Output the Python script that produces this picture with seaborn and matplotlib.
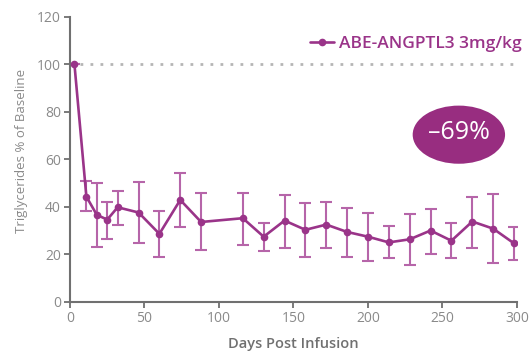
import matplotlib
matplotlib.use("Agg")
import matplotlib.pyplot as plt
import seaborn as sns
import pandas as pd
from matplotlib.patches import Ellipse

days = [3, 11, 18, 25, 32, 46, 60, 74, 88, 116, 130, 144, 158, 172, 186, 200, 214, 228, 242, 256, 270, 284, 298]
mean_pct = [100, 44.3, 36.6, 34.6, 39.8, 37.6, 28.6, 42.9, 33.6, 35.2, 27.4, 34.2, 30.3, 32.5, 29.4, 27.4, 25.0, 26.3, 30.0, 25.7, 33.8, 30.8, 24.6]
upper = [100, 50.8, 49.9, 42.2, 46.5, 50.5, 38.1, 54.3, 45.7, 46.0, 33.0, 44.9, 41.4, 41.9, 39.5, 37.3, 32.1, 36.8, 39.0, 33.0, 44.2, 45.5, 31.6]
lower = [100, 38.1, 22.9, 26.5, 32.4, 24.6, 18.7, 31.4, 21.9, 23.8, 21.2, 22.7, 18.7, 22.5, 18.7, 17.0, 18.3, 15.3, 20.1, 18.4, 22.8, 16.2, 17.6]
series_name = "ABE-ANGPTL3 3mg/kg"
x_ticks = [0, 50, 100, 150, 200, 250, 300]
y_ticks = [0, 20, 40, 60, 80, 100, 120]
reduction_label = "\u201369%"

purple = "#9a3489"
err_purple = "#b665a9"
gray = "#707070"

sns.set_theme(style="white")
plt.rcParams['font.family'] = ['Open Sans', 'DejaVu Sans']

df = pd.DataFrame({"day": days, "pct": mean_pct, "lo": lower, "hi": upper})

fig = plt.figure(figsize=(5.31, 3.54), dpi=100)
ax = fig.add_axes([0.1318, 0.1477, 0.8418, 0.8043])

ax.axhline(100, color="#b5b5b5", linestyle=(0, (1, 2.6)), linewidth=2, zorder=1)

yerr = [df["pct"] - df["lo"], df["hi"] - df["pct"]]
ax.errorbar(df["day"], df["pct"], yerr=yerr, fmt="none", ecolor=err_purple,
            elinewidth=1.5, capsize=4.6, capthick=1.5, zorder=2)
sns.lineplot(data=df, x="day", y="pct", ax=ax, color=purple, linewidth=1.9,
             marker="o", markersize=5.5, markeredgewidth=0, label=series_name, zorder=3)

ell = Ellipse((261, 70.4), 62, 24.5, facecolor="#982d80", edgecolor="none", zorder=4)
ax.add_patch(ell)
ax.text(261, 71.2, reduction_label, color="white", fontsize=18, ha="center", va="center", zorder=5)

ax.set_xlim(0, 300)
ax.set_ylim(0, 120)
ax.set_xticks(x_ticks)
ax.set_yticks(y_ticks)
ax.tick_params(axis="both", which="both", direction="out", length=4, width=1.3,
               color=gray, labelcolor="#8a8a8a", labelsize=10, bottom=True, left=True, pad=2.5)
for side in ["top", "right"]:
    ax.spines[side].set_visible(False)
for side in ["left", "bottom"]:
    ax.spines[side].set_color(gray)
    ax.spines[side].set_linewidth(1.5)

ax.set_xlabel("Days Post Infusion", color=gray, fontsize=10.5, fontweight="semibold", labelpad=8)
ax.set_ylabel("Triglycerides % of Baseline", color="#8a8a8a", fontsize=9.5, labelpad=5)
ax.yaxis.set_label_coords(-0.094, 0.53)

leg = ax.legend(loc="center right", bbox_to_anchor=(1.01, 0.905), frameon=False,
                handlelength=1.4, handletextpad=0.25, fontsize=12.5, borderaxespad=0,
                borderpad=0)
for t in leg.get_texts():
    t.set_color(purple)
    t.set_fontweight("semibold")

fig.savefig("out.png", dpi=100)
